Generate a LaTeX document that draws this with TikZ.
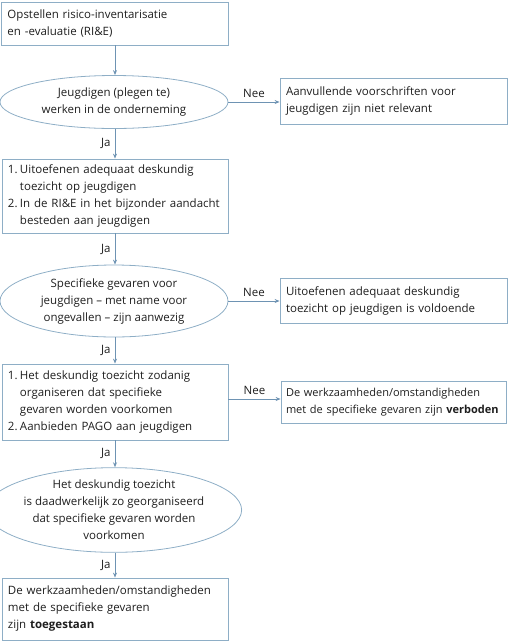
\documentclass[tikz,border=0pt]{standalone}
\usepackage{fontspec}
\setmainfont{Open Sans}
\usetikzlibrary{shapes.geometric,arrows.meta}
\hyphenpenalty=10000
\exhyphenpenalty=10000
\definecolor{linec}{HTML}{6E93B3}
\definecolor{boxc}{HTML}{8EAEC6}
\definecolor{txtc}{HTML}{1E1E1E}
\newcommand{\num}[1]{\makebox[12pt][l]{#1}}
\newcommand{\ind}{\hspace*{12pt}}
\tikzset{
  every node/.style={font=\fontsize{11.5}{17}\selectfont, text=txtc},
  boxnode/.style={draw=boxc, line width=0.8pt, rectangle, inner sep=0pt, align=left},
  ellnode/.style={draw=boxc, line width=0.8pt, ellipse, inner sep=0pt, align=center, minimum width=228pt},
  conn/.style={draw=linec, line width=0.8pt, -{Stealth[length=5pt,width=4pt]}},
  lbl/.style={inner sep=1pt}
}
\begin{document}
\begin{tikzpicture}[x=1pt,y=-1pt]
\useasboundingbox (0,0) rectangle (508,641);
% left column
\node[boxnode, minimum width=227pt, minimum height=43pt, text width=214pt] (b1) at (114.5,23.5)
  {Opstellen risico-inventarisatie\\en -evaluatie (RI\&E)};
\node[ellnode, minimum height=53pt] (e1) at (114,102)
  {Jeugdigen (plegen te)\\werken in de onderneming};
\node[boxnode, minimum width=226pt, minimum height=74pt, text width=214pt] (b2) at (115,196)
  {\num{1.}Uitoefenen adequaat deskundig\\\ind toezicht op jeugdigen\\\num{2.}In de RI\&E in het bijzonder aandacht\\\ind besteden aan jeugdigen};
\node[ellnode, minimum height=72pt] (e2) at (114,301)
  {Specifieke gevaren voor\\jeugdigen – met name voor\\ongevallen – zijn aanwezig};
\node[boxnode, minimum width=226pt, minimum height=76pt, text width=214pt] (b3) at (115,402)
  {\num{1.}Het deskundig toezicht zodanig\\\ind organiseren dat specifieke\\\ind gevaren worden voorkomen\\\num{2.}Aanbieden PAGO aan jeugdigen};
\node[ellnode, minimum height=80pt] (e3) at (114,510)
  {Het deskundig toezicht\\is daadwerkelijk zo georganiseerd\\dat specifieke gevaren worden\\voorkomen};
\node[boxnode, minimum width=226pt, minimum height=62pt, text width=214pt] (b4) at (115,609)
  {De werkzaamheden/omstandigheden\\met de specifieke gevaren\\zijn \textbf{toegestaan}};
% right column
\node[boxnode, minimum width=227pt, minimum height=46pt, text width=215pt] (r1) at (393.5,101)
  {Aanvullende voorschriften voor\\jeugdigen zijn niet relevant};
\node[boxnode, minimum width=227pt, minimum height=45pt, text width=215pt] (r2) at (393.5,300.5)
  {Uitoefenen adequaat deskundig\\toezicht op jeugdigen is voldoende};
\node[boxnode, minimum width=225pt, minimum height=42pt, text width=215pt, font=\fontsize{11}{17}\selectfont] (r3) at (393.5,402)
  {De werkzaamheden/omstandigheden\\\mbox{met de specifieke gevaren zijn \textbf{verboden}}};
% connectors
\draw[conn] (b1.south -| 115,0) -- (e1.north -| 115,0);
\draw[conn] (e1.south -| 115,0) -- node[lbl, left=3pt] {Ja} (b2.north -| 115,0);
\draw[conn] (b2.south -| 115,0) -- node[lbl, left=3pt] {Ja} (e2.north -| 115,0);
\draw[conn] (e2.south -| 115,0) -- node[lbl, left=3pt] {Ja} (b3.north -| 115,0);
\draw[conn] (b3.south -| 115,0) -- node[lbl, left=3pt] {Ja} (e3.north -| 115,0);
\draw[conn] (e3.south -| 115,0) -- node[lbl, left=3pt] {Ja} (b4.north -| 115,0);
\draw[conn] (e1.east) -- node[lbl, above=3pt] {Nee} (r1.west |- e1.east);
\draw[conn] (e2.east) -- node[lbl, above=3pt] {Nee} (r2.west |- e2.east);
\coordinate (b3r) at (b3.east |- 0,399);
\draw[conn] (b3r) -- node[lbl, above=3pt] {Nee} (r3.west |- b3r);
\end{tikzpicture}
\end{document}
